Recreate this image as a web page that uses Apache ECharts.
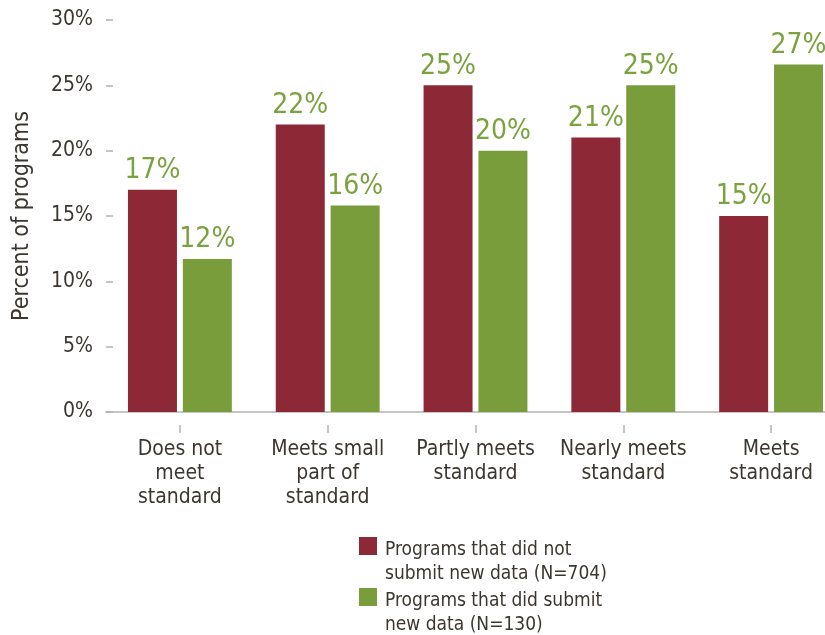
<!DOCTYPE html>
<html><head><meta charset="utf-8">
<script src="https://cdn.jsdelivr.net/npm/echarts@6/dist/echarts.min.js"></script>
<style>html,body{margin:0;padding:0;background:#fff}#c{width:825px;height:635px}</style>
</head><body><div id="c"></div>
<script>
const categories = ['Does not\nmeet\nstandard', 'Meets small\npart of\nstandard', 'Partly meets\nstandard', 'Nearly meets\nstandard', 'Meets\nstandard'];
const seriesNames = ['Programs that did not\nsubmit new data (N=704)', 'Programs that did submit\nnew data (N=130)'];
const notSubmitted = [17, 22, 25, 21, 15];
const submitted = [11.7, 15.8, 20, 25, 26.6];
const yTicks = [0, 5, 10, 15, 20, 25, 30];

const FONT = '"Liberation Sans Narrow", "DejaVu Sans Condensed", sans-serif';
const RED = '#8d2937';
const GREEN = '#7a9d3c';
const LABELGREEN = '#7aa23e';
const TEXT = '#3b362f';

const chart = echarts.init(document.getElementById('c'));
const labelCfg = {
  show: true, position: 'top', distance: 5,
  color: LABELGREEN, fontFamily: FONT, fontSize: 28,
  formatter: p => Math.round(p.value) + '%'
};
chart.setOption({
  animation: false,
  textStyle: { fontFamily: FONT },
  grid: { left: 106, top: 20, bottom: 223, width: 739, containLabel: false, outerBoundsMode: 'none' },
  legend: {
    orient: 'vertical', left: 354, top: 532, height: 130,
    itemWidth: 18, itemHeight: 50, itemGap: 1,
    icon: 'path://M0,0L18,0L18,18L0,18Z M0,50L0,50Z',
    textStyle: { color: TEXT, fontSize: 19, fontFamily: FONT, lineHeight: 24, padding: [0, 0, 0, 3] },
    data: seriesNames
  },
  xAxis: [{
    type: 'category', data: categories,
    axisLine: { show: true, lineStyle: { color: '#b5b2ad', width: 1.5 } },
    axisTick: { show: false }, axisLabel: { show: false }
  }, {
    type: 'category', data: categories, position: 'bottom', offset: 13,
    axisLine: { show: false },
    axisTick: { show: true, alignWithLabel: true, length: 8, lineStyle: { color: '#b5b2ad', width: 1.5 } },
    axisLabel: { color: TEXT, fontSize: 21, fontFamily: FONT, lineHeight: 24, margin: 13, interval: 0 }
  }],
  yAxis: {
    type: 'value', min: yTicks[0], max: yTicks[yTicks.length - 1], interval: 5,
    name: 'Percent of programs', nameLocation: 'middle', nameGap: 72,
    nameTextStyle: { color: TEXT, fontSize: 23, fontFamily: FONT },
    axisLine: { show: false },
    axisTick: { show: true, inside: true, length: 7, lineStyle: { color: '#b5b2ad', width: 1.5 } },
    splitLine: { show: false },
    axisLabel: { color: TEXT, fontSize: 21, fontFamily: FONT, margin: 13, formatter: '{value}%' }
  },
  series: [
    { name: seriesNames[0], type: 'bar', data: notSubmitted, barWidth: 49, barGap: '12%',
      itemStyle: { color: RED }, label: labelCfg },
    { name: seriesNames[1], type: 'bar', data: submitted, barWidth: 49,
      itemStyle: { color: GREEN }, label: labelCfg }
  ]
});
</script></body></html>
